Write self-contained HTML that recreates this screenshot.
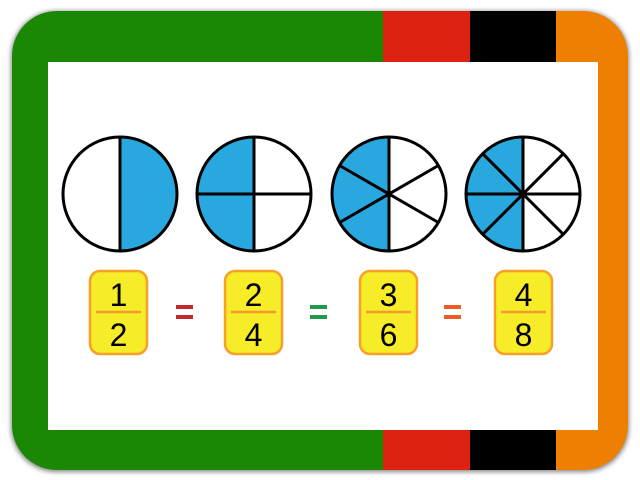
<!DOCTYPE html>
<html><head><style>
html,body{margin:0;padding:0;background:#fff;}
svg{display:block;}
text{font-family:"Liberation Sans",sans-serif;}
</style></head><body>
<svg width="640" height="480" viewBox="0 0 640 480" xmlns="http://www.w3.org/2000/svg">
<defs>
<clipPath id="fr"><rect x="12" y="11" width="616" height="459" rx="45"/></clipPath>
<filter id="sh" x="-5%" y="-5%" width="110%" height="110%"><feGaussianBlur stdDeviation="2.5"/></filter>
</defs>
<rect x="11" y="11" width="618" height="461" rx="45" fill="#888" filter="url(#sh)"/>
<g clip-path="url(#fr)">
<rect x="0" y="0" width="383" height="480" fill="#1b8805"/>
<rect x="383" y="0" width="87" height="480" fill="#de2212"/>
<rect x="470" y="0" width="86" height="480" fill="#000"/>
<rect x="556" y="0" width="84" height="480" fill="#ef7f02"/>
</g>
<rect x="48" y="62" width="550" height="368" fill="#fff"/>
<g stroke="#000" stroke-width="3" fill="none">
<!-- circle 1 -->
<path d="M120,137 A57,57 0 0 1 120,251 Z" fill="#29a8e0" stroke="none"/>
<circle cx="120" cy="194" r="57"/>
<line x1="120" y1="137" x2="120" y2="251"/>
<!-- circle 2 -->
<path d="M254,137 A57,57 0 0 0 254,251 Z" fill="#29a8e0" stroke="none"/>
<circle cx="254" cy="194" r="57"/>
<line x1="254" y1="137" x2="254" y2="251"/>
<line x1="197" y1="194" x2="311" y2="194"/>
<!-- circle 3 -->
<path d="M389,137 A57,57 0 0 0 389,251 Z" fill="#29a8e0" stroke="none"/>
<circle cx="389" cy="194" r="57"/>
<line x1="389" y1="137" x2="389" y2="251"/>
<line x1="339.6" y1="165.5" x2="438.4" y2="222.5"/>
<line x1="339.6" y1="222.5" x2="438.4" y2="165.5"/>
<!-- circle 4 -->
<path d="M523,137 A57,57 0 0 0 523,251 Z" fill="#29a8e0" stroke="none"/>
<circle cx="523" cy="194" r="57"/>
<line x1="523" y1="137" x2="523" y2="251"/>
<line x1="466" y1="194" x2="580" y2="194"/>
<line x1="482.7" y1="153.7" x2="563.3" y2="234.3"/>
<line x1="482.7" y1="234.3" x2="563.3" y2="153.7"/>
</g>
<g stroke="#f6a02a" stroke-width="2.5" fill="#f6ec27">
<rect x="90" y="271" width="57" height="83" rx="10"/>
<rect x="225" y="271" width="57" height="83" rx="10"/>
<rect x="360" y="271" width="57" height="83" rx="10"/>
<rect x="495" y="271" width="57" height="83" rx="10"/>
</g>
<g stroke="#f39a2c" stroke-width="2.5">
<line x1="96" y1="312" x2="141" y2="312"/>
<line x1="231" y1="312" x2="276" y2="312"/>
<line x1="366" y1="312" x2="411" y2="312"/>
<line x1="501" y1="312" x2="546" y2="312"/>
</g>
<g font-size="32" text-anchor="middle" fill="#000">
<text x="118.5" y="306">1</text><text x="118.5" y="346">2</text>
<text x="253.5" y="306">2</text><text x="253.5" y="346">4</text>
<text x="388.5" y="306">3</text><text x="388.5" y="346">6</text>
<text x="523.5" y="306">4</text><text x="523.5" y="346">8</text>
</g>
<g>
<rect x="176" y="305" width="17" height="4" fill="#c4262e"/><rect x="176" y="315" width="17" height="4" fill="#c4262e"/>
<rect x="310" y="305" width="17" height="4" fill="#1f9a48"/><rect x="310" y="315" width="17" height="4" fill="#1f9a48"/>
<rect x="444" y="305" width="17" height="4" fill="#f05a28"/><rect x="444" y="315" width="17" height="4" fill="#f05a28"/>
</g>
</svg>
</body></html>
